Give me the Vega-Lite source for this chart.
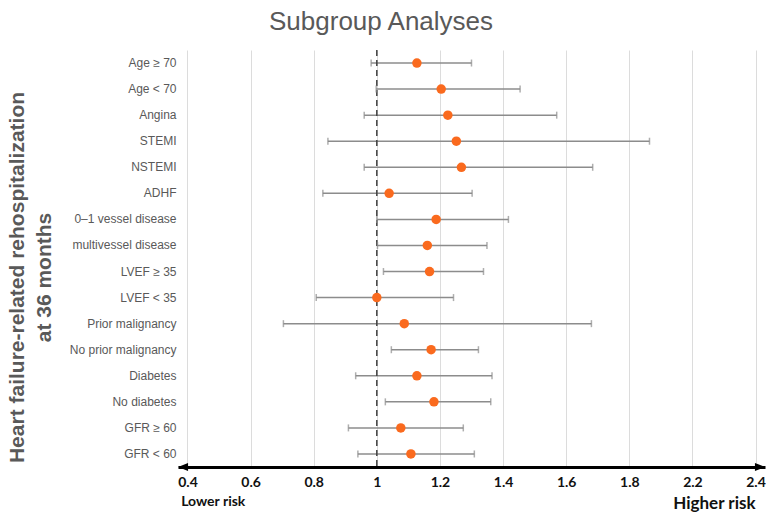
{
  "$schema": "https://vega.github.io/schema/vega-lite/v6.json",
  "width": 587,
  "height": 417,
  "autosize": {"type": "none"},
  "padding": {"left": 178, "top": 50, "right": 8, "bottom": 53},
  "background": "white",
  "title": {
    "text": "Subgroup Analyses",
    "anchor": "start",
    "frame": "group",
    "dx": 91,
    "offset": 14,
    "font": "Liberation Sans",
    "fontSize": 26,
    "fontWeight": "normal",
    "color": "#595959"
  },
  "config": {"view": {"stroke": null}},
  "datasets": {
    "rows": [
      {"group": "Age ≥ 70", "hr": 1.127, "lo": 0.982, "hi": 1.300},
      {"group": "Age < 70", "hr": 1.204, "lo": 0.998, "hi": 1.454},
      {"group": "Angina", "hr": 1.225, "lo": 0.960, "hi": 1.570},
      {"group": "STEMI", "hr": 1.252, "lo": 0.845, "hi": 1.864},
      {"group": "NSTEMI", "hr": 1.268, "lo": 0.960, "hi": 1.684},
      {"group": "ADHF", "hr": 1.039, "lo": 0.829, "hi": 1.302},
      {"group": "0–1 vessel disease", "hr": 1.188, "lo": 1.0, "hi": 1.417},
      {"group": "multivessel disease", "hr": 1.160, "lo": 1.002, "hi": 1.349},
      {"group": "LVEF ≥ 35", "hr": 1.167, "lo": 1.021, "hi": 1.338},
      {"group": "LVEF < 35", "hr": 1.0, "lo": 0.808, "hi": 1.243},
      {"group": "Prior malignancy", "hr": 1.087, "lo": 0.704, "hi": 1.680},
      {"group": "No prior malignancy", "hr": 1.172, "lo": 1.046, "hi": 1.322},
      {"group": "Diabetes", "hr": 1.127, "lo": 0.933, "hi": 1.365},
      {"group": "No diabetes", "hr": 1.181, "lo": 1.027, "hi": 1.361},
      {"group": "GFR ≥ 60", "hr": 1.076, "lo": 0.910, "hi": 1.274},
      {"group": "GFR < 60", "hr": 1.108, "lo": 0.940, "hi": 1.309}
    ],
    "ref": [{"value": 1}],
    "arrows": [
      {"end": "left", "x": 0.386},
      {"end": "right", "x": 2.214}
    ],
    "lower": [{"text": "Lower risk", "x": 0.38, "group": "GFR < 60"}],
    "higher": [{"text": "Higher risk", "x": 2.2, "group": "GFR < 60"}]
  },
  "layer": [
    {
      "data": {"name": "rows"},
      "mark": {"type": "rule", "color": "#8c8c8c", "strokeWidth": 1.5},
      "encoding": {
        "y": {
          "field": "group",
          "type": "nominal",
          "sort": null,
          "scale": {"paddingInner": 0, "paddingOuter": 0},
          "axis": {
            "title": ["Heart failure-related rehospitalization", "at 36 months"],
            "titleAngle": -90,
            "titleX": -161,
            "titleY": 227,
            "titleAlign": "center",
            "titleBaseline": "middle",
            "titleFont": "Liberation Sans",
            "titleFontSize": 21,
            "titleFontWeight": "bold",
            "titleColor": "#595959",
            "titleLineHeight": 27,
            "labelFont": "Liberation Sans",
            "labelFontSize": 12,
            "labelColor": "#595959",
            "labelPadding": 2,
            "ticks": false,
            "domain": false,
            "grid": false
          }
        },
        "x": {
          "field": "lo",
          "type": "quantitative",
          "scale": {"domain": [0.37, 2.23], "nice": false, "zero": false},
          "axis": {
            "values": [0.4, 0.6, 0.8, 1, 1.2, 1.4, 1.6, 1.8, 2, 2.2],
            "labelExpr": "datum.value > 2.1 ? '2.4' : datum.value > 1.9 ? '2.2' : format(datum.value, '~g')",
            "title": null,
            "grid": true,
            "gridColor": "#dcdcdc",
            "gridWidth": 1,
            "domain": true,
            "domainColor": "#000000",
            "domainWidth": 3,
            "ticks": false,
            "labelFont": "Lato",
            "labelFontSize": 14,
            "labelFontWeight": "bold",
            "labelColor": "#111111",
            "labelPadding": 8
          }
        },
        "x2": {"field": "hi"}
      }
    },
    {
      "data": {"name": "ref"},
      "mark": {"type": "rule", "color": "#404040", "strokeWidth": 1.5, "strokeDash": [6, 4]},
      "encoding": {"x": {"field": "value", "type": "quantitative"}}
    },
    {
      "data": {"name": "rows"},
      "mark": {"type": "tick", "color": "#8c8c8c", "thickness": 1.5, "size": 7, "orient": "vertical"},
      "encoding": {
        "y": {"field": "group", "type": "nominal", "sort": null},
        "x": {"field": "lo", "type": "quantitative"}
      }
    },
    {
      "data": {"name": "rows"},
      "mark": {"type": "tick", "color": "#8c8c8c", "thickness": 1.5, "size": 7, "orient": "vertical"},
      "encoding": {
        "y": {"field": "group", "type": "nominal", "sort": null},
        "x": {"field": "hi", "type": "quantitative"}
      }
    },
    {
      "data": {"name": "rows"},
      "mark": {"type": "point", "filled": true, "color": "#fa6a1e", "opacity": 1, "size": 90},
      "encoding": {
        "y": {"field": "group", "type": "nominal", "sort": null},
        "x": {"field": "hr", "type": "quantitative"}
      }
    },
    {
      "data": {"name": "arrows"},
      "mark": {"type": "point", "filled": true, "color": "#000000", "opacity": 1, "size": 100, "clip": false},
      "encoding": {
        "x": {"field": "x", "type": "quantitative"},
        "y": {"value": 417},
        "shape": {
          "field": "end",
          "type": "nominal",
          "scale": {"domain": ["left", "right"], "range": ["M-1,0L1,-0.8L1,0.8Z", "M1,0L-1,-0.8L-1,0.8Z"]},
          "legend": null
        }
      }
    },
    {
      "data": {"name": "lower"},
      "mark": {"type": "text", "font": "Lato", "fontWeight": "bold", "color": "#111111", "baseline": "middle", "align": "left", "fontSize": 14, "dy": 48},
      "encoding": {
        "x": {"field": "x", "type": "quantitative"},
        "y": {"field": "group", "type": "nominal", "sort": null},
        "text": {"field": "text"}
      }
    },
    {
      "data": {"name": "higher"},
      "mark": {"type": "text", "font": "Lato", "fontWeight": "bold", "color": "#111111", "baseline": "middle", "align": "right", "fontSize": 17, "dy": 50},
      "encoding": {
        "x": {"field": "x", "type": "quantitative"},
        "y": {"field": "group", "type": "nominal", "sort": null},
        "text": {"field": "text"}
      }
    }
  ]
}
